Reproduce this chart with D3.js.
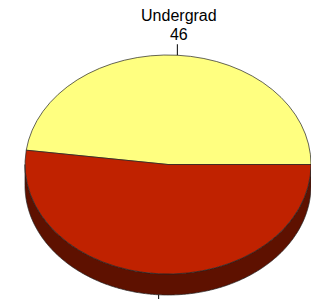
<!DOCTYPE html>
<html>
<head>
<meta charset="utf-8">
<script src="https://cdn.jsdelivr.net/npm/d3@7"></script>
<style>
  body { margin: 0; background: #fff; }
  svg { display: block; }
</style>
</head>
<body>
<div id="chart"></div>
<script>
// slice data
const categories = ["Undergrad", "Graduate"];
const values = [46, 50];
const colors = ["#FFFF80", "#C02200"];
const sideColors = ["#808040", "#5E1100"];
const showLabel = [true, false];

const width = 311, height = 299;
const cx = 168, cy = 164.5, rx = 143, ry = 109.5, depth = 21;

let svg = d3.select("#chart")
    .append("svg")
    .attr("width", width)
    .attr("height", height);

let data = categories.map((c, i) => ({ name: c, value: values[i], i: i }));
let total = d3.sum(values);

// first slice ends at 3 o'clock
let start = Math.PI / 2 - 2 * Math.PI * values[0] / total;
let pie = d3.pie()
    .sort(null)
    .value(d => d.value)
    .startAngle(start)
    .endAngle(start + 2 * Math.PI);
let arcs = pie(data);

function px(a) { return cx + rx * Math.sin(a); }
function py(a) { return cy - ry * Math.cos(a); }

// side walls, only front half (pi/2 .. 3pi/2) is visible
let sides = svg.append("g");
arcs.forEach(function(d) {
    let a0 = Math.max(d.startAngle, Math.PI / 2);
    let a1 = Math.min(d.endAngle, 3 * Math.PI / 2);
    if (a1 <= a0) return;
    let p = d3.path();
    p.moveTo(px(a0), py(a0));
    let pts = d3.range(a0, a1, 0.01).concat([a1]);
    pts.forEach(a => p.lineTo(px(a), py(a)));
    pts.reverse().forEach(a => p.lineTo(px(a), py(a) + depth));
    p.closePath();
    sides.append("path")
        .attr("d", p.toString())
        .attr("fill", sideColors[d.data.i])
        .attr("stroke", "#222")
        .attr("stroke-width", 0.7);
});

// top face
let arc = d3.arc().innerRadius(0).outerRadius(rx);
let face = svg.append("g")
    .attr("transform", `translate(${cx}, ${cy}) scale(1, ${ry / rx})`);
face.selectAll("path")
    .data(arcs)
    .enter()
    .append("path")
    .attr("d", arc)
    .attr("fill", d => colors[d.data.i])
    .attr("stroke", "#222")
    .attr("stroke-width", 0.7)
    .attr("vector-effect", "non-scaling-stroke");

// leader lines and labels
arcs.forEach(function(d) {
    let mid = (d.startAngle + d.endAngle) / 2;
    let x = px(mid);
    let front = Math.cos(mid) < 0;
    let y0 = py(mid) + (front ? depth : 0);
    let y1 = y0 + (front ? 11 : -11);
    svg.append("line")
        .attr("x1", x).attr("y1", y0)
        .attr("x2", x).attr("y2", y1)
        .attr("stroke", "#000")
        .attr("stroke-width", 1);
    if (!showLabel[d.data.i]) return;
    let t = svg.append("text")
        .attr("text-anchor", "middle")
        .style("font-family", "'Liberation Sans', Arial, sans-serif")
        .style("font-size", "16px")
        .attr("fill", "#000");
    t.append("tspan").attr("x", x + 1.5).attr("y", y1 - 23).text(d.data.name);
    t.append("tspan").attr("x", x + 1.5).attr("y", y1 - 4).text(d.data.value);
});
</script>
</body>
</html>
